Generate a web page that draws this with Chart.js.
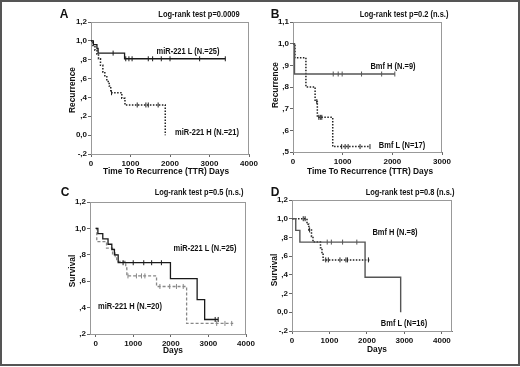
<!DOCTYPE html>
<html>
<head>
<meta charset="utf-8">
<script src="https://cdn.jsdelivr.net/npm/chart.js@4.4.0/dist/chart.umd.min.js"></script>
<style>
html, body { margin: 0; padding: 0; background: #fff; }
#wrap { position: relative; width: 520px; height: 367px; overflow: hidden; }
#wrap canvas { position: absolute; left: 0; top: 0; }
#frame { position: absolute; left: 0; top: 0; width: 520px; height: 366px; box-sizing: border-box; border: 2px solid #555; }
</style>
</head>
<body>
<div id="wrap">
  <canvas id="chartA" width="520" height="367"></canvas>
  <canvas id="chartB" width="520" height="367"></canvas>
  <canvas id="chartC" width="520" height="367"></canvas>
  <canvas id="chartD" width="520" height="367"></canvas>
  <div id="frame"></div>
</div>
<script>
//panel A: miR-221, time to recurrence
var aTicksX = [0, 1000, 2000, 3000, 4000];
var aTicksY = [-0.2, 0, 0.2, 0.4, 0.6, 0.8, 1.0, 1.2];
var aLowDays = [0, 60, 150, 180, 850, 3400];
var aLowVals = [1.0, 0.96, 0.92, 0.87, 0.81, 0.81];
var aLowCensDays = [560, 880, 960, 1040, 1450, 1560, 1780, 2000, 2750, 3400];
var aLowCensVals = [0.87, 0.81, 0.81, 0.81, 0.81, 0.81, 0.81, 0.81, 0.81, 0.81];
var aHighDays = [0, 50, 100, 150, 190, 240, 300, 350, 400, 460, 500, 780, 860, 1880];
var aHighVals = [1.0, 0.95, 0.90, 0.86, 0.81, 0.74, 0.67, 0.62, 0.57, 0.52, 0.45, 0.39, 0.32, 0.0];
var aHighCensDays = [520, 1170, 1390, 1450, 1700];
var aHighCensVals = [0.45, 0.32, 0.32, 0.32, 0.32];

//panel B: Bmf, time to recurrence
var bTicksX = [0, 1000, 2000, 3000];
var bTicksY = [0.5, 0.6, 0.7, 0.8, 0.9, 1.0, 1.1];
var bHighDays = [0, 30, 2050];
var bHighVals = [1.0, 0.86, 0.86];
var bHighCensDays = [810, 910, 990, 1380, 1785, 2050];
var bHighCensVals = [0.86, 0.86, 0.86, 0.86, 0.86, 0.86];
var bLowDays = [0, 40, 260, 445, 490, 800, 1550];
var bLowVals = [1.0, 0.935, 0.80, 0.733, 0.66, 0.525, 0.525];
var bLowCensDays = [480, 520, 550, 580, 980, 1050, 1110, 1350, 1550];
var bLowCensVals = [0.733, 0.66, 0.66, 0.66, 0.525, 0.525, 0.525, 0.525, 0.525];

//panel C: miR-221, survival
var cTicksX = [0, 1000, 2000, 3000, 4000];
var cTicksY = [0.2, 0.4, 0.6, 0.8, 1.0, 1.2];
var cLowDays = [0, 60, 190, 330, 430, 500, 600, 1990, 2700, 2900, 3260];
var cLowVals = [1.0, 0.96, 0.92, 0.88, 0.84, 0.80, 0.74, 0.62, 0.46, 0.31, 0.31];
var cLowCensDays = [730, 1000, 1280, 1490, 1750, 3180, 3260];
var cLowCensVals = [0.74, 0.74, 0.74, 0.74, 0.74, 0.31, 0.31];
var cHighDays = [0, 30, 290, 450, 560, 800, 830, 1620, 2420, 3660];
var cHighVals = [1.0, 0.90, 0.85, 0.80, 0.75, 0.70, 0.64, 0.56, 0.28, 0.28];
var cHighCensDays = [520, 860, 1085, 1220, 1310, 1710, 1970, 2150, 2330, 3220, 3440, 3620];
var cHighCensVals = [0.80, 0.64, 0.64, 0.64, 0.64, 0.56, 0.56, 0.56, 0.56, 0.28, 0.28, 0.28];

//panel D: Bmf, survival
var dTicksX = [0, 1000, 2000, 3000, 4000];
var dTicksY = [-0.2, 0, 0.2, 0.4, 0.6, 0.8, 1.0, 1.2];
var dHighDays = [0, 100, 210, 1950, 2900];
var dHighVals = [1.0, 0.875, 0.75, 0.375, 0.0];
var dHighCensDays = [940, 1050, 1350, 1730];
var dHighCensVals = [0.75, 0.75, 0.75, 0.75];
var dLowDays = [0, 400, 450, 520, 560, 760, 800, 830, 2080];
var dLowVals = [1.0, 0.94, 0.88, 0.81, 0.75, 0.69, 0.63, 0.56, 0.56];
var dLowCensDays = [300, 350, 470, 900, 970, 1280, 1440, 1480, 2040];
var dLowCensVals = [1.0, 1.0, 0.88, 0.56, 0.56, 0.56, 0.56, 0.56, 0.56];

var FONT = '"Liberation Sans", Arial, sans-serif';

function fmtY(v){
    var a = Math.abs(v);
    var s = a.toFixed(1).replace(".", ",");
    if(a > 1e-9 && a < 1){
        s = s.substring(1);
    }
    return (v < -1e-9 ? "-" : "") + s;
}

function toPoints(days, vals){
    var pts = [];
    for(var i = 0; i < days.length; i++){
        pts.push({x: days[i], y: vals[i]});
    }
    return pts;
}

function drawText(ctx, t){
    ctx.save();
    ctx.translate(t.x, t.y);
    if(t.rot){
        ctx.rotate(t.rot);
    }
    ctx.scale(t.sx || 0.88, 1);
    ctx.font = "bold " + t.size + "px " + FONT;
    ctx.fillStyle = "#111";
    ctx.textAlign = "center";
    ctx.textBaseline = "middle";
    ctx.fillText(t.s, 0, 0);
    ctx.restore();
}

function makePanel(id, area, xRange, yRange, xTicks, yTicks, curves, texts){
    var datasets = [];
    curves.forEach(function(c){
        datasets.push({
            data: toPoints(c.days, c.vals),
            stepped: true,
            borderColor: c.color,
            borderWidth: c.width,
            borderDash: c.dash,
            pointRadius: 0,
            fill: false
        });
        datasets.push({
            data: toPoints(c.censDays, c.censVals),
            showLine: false,
            pointStyle: "line",
            rotation: 90,
            pointRadius: 2.5,
            borderColor: c.color,
            borderWidth: 1
        });
    });
    var decor = {
        id: "decor" + id,
        beforeDatasetsDraw: function(chart){
            var ctx = chart.ctx, a = chart.chartArea;
            ctx.save();
            ctx.strokeStyle = "#999";
            ctx.lineWidth = 1;
            ctx.strokeRect(a.left + 0.5, a.top + 0.5, a.right - a.left - 1, a.bottom - a.top);
            ctx.restore();
        },
        afterDraw: function(chart){
            texts.forEach(function(t){ drawText(chart.ctx, t); });
        }
    };
    var tickFont = {family: FONT, size: 8, weight: "bold"};
    return new Chart(document.getElementById(id), {
        type: "line",
        data: {datasets: datasets},
        plugins: [decor],
        options: {
            responsive: false,
            animation: false,
            events: [],
            layout: {
                padding: {
                    left: area.left - 30,
                    top: area.top,
                    right: 520 - area.right,
                    bottom: 367 - area.bottom - 15
                }
            },
            plugins: {legend: {display: false}, tooltip: {enabled: false}},
            scales: {
                x: {
                    type: "linear",
                    min: xRange[0],
                    max: xRange[1],
                    afterBuildTicks: function(s){ s.ticks = xTicks.map(function(v){ return {value: v}; }); },
                    afterFit: function(s){ s.height = 15; },
                    grid: {display: true, drawOnChartArea: false, drawTicks: true, tickLength: 3, color: "#666"},
                    border: {display: true, color: "#777"},
                    ticks: {font: tickFont, color: "#111", padding: 1.5, maxRotation: 0, autoSkip: false,
                        callback: function(v){ return String(v); }}
                },
                y: {
                    type: "linear",
                    min: yRange[0],
                    max: yRange[1],
                    afterBuildTicks: function(s){ s.ticks = yTicks.map(function(v){ return {value: v}; }); },
                    afterFit: function(s){ s.width = 30; },
                    grid: {display: true, drawOnChartArea: false, drawTicks: true, tickLength: 3, color: "#666"},
                    border: {display: true, color: "#777"},
                    ticks: {font: tickFont, color: "#111", padding: 1, autoSkip: false,
                        callback: function(v){ return fmtY(v); }}
                }
            }
        }
    });
}

var ROT = -Math.PI / 2;

makePanel("chartA", {left: 91, right: 249, top: 22, bottom: 154}, [0, 4000], [-0.2, 1.2], aTicksX, aTicksY, [
    {days: aLowDays, vals: aLowVals, censDays: aLowCensDays, censVals: aLowCensVals, color: "#1a1a1a", width: 1.3, dash: []},
    {days: aHighDays, vals: aHighVals, censDays: aHighCensDays, censVals: aHighCensVals, color: "#222", width: 1.5, dash: [1.5, 1.5]}
], [
    {s: "A", x: 64, y: 15, size: 12, sx: 1},
    {s: "Log-rank test p=0.0009", x: 199, y: 15, size: 8.5},
    {s: "Time To Recurrence (TTR) Days", x: 166, y: 171, size: 9.5},
    {s: "Recurrence", x: 72, y: 90, size: 9.5, rot: ROT},
    {s: "miR-221 L (N.=25)", x: 188, y: 52, size: 8.5},
    {s: "miR-221 H (N.=21)", x: 207, y: 133, size: 8.5}
]);

makePanel("chartB", {left: 293, right: 442, top: 22, bottom: 152}, [0, 3000], [0.5, 1.1], bTicksX, bTicksY, [
    {days: bHighDays, vals: bHighVals, censDays: bHighCensDays, censVals: bHighCensVals, color: "#555", width: 1.4, dash: []},
    {days: bLowDays, vals: bLowVals, censDays: bLowCensDays, censVals: bLowCensVals, color: "#222", width: 1.5, dash: [1.5, 1.5]}
], [
    {s: "B", x: 275, y: 15, size: 12, sx: 1},
    {s: "Log-rank test p=0.2 (n.s.)", x: 404, y: 15, size: 8.5},
    {s: "Time To Recurrence (TTR) Days", x: 370, y: 171, size: 9.5},
    {s: "Recurrence", x: 275, y: 85, size: 9.5, rot: ROT},
    {s: "Bmf H (N.=9)", x: 393, y: 67, size: 8.5},
    {s: "Bmf L (N=17)", x: 402, y: 146, size: 8.5}
]);

makePanel("chartC", {left: 90, right: 246, top: 202, bottom: 334}, [-150, 4000], [0.2, 1.2], cTicksX, cTicksY, [
    {days: cLowDays, vals: cLowVals, censDays: cLowCensDays, censVals: cLowCensVals, color: "#1a1a1a", width: 1.3, dash: []},
    {days: cHighDays, vals: cHighVals, censDays: cHighCensDays, censVals: cHighCensVals, color: "#888", width: 1.3, dash: [3, 2]}
], [
    {s: "C", x: 65, y: 193, size: 12, sx: 1},
    {s: "Log-rank test p=0.5 (n.s.)", x: 199, y: 193, size: 8.5},
    {s: "Days", x: 173, y: 350, size: 9.5},
    {s: "Survival", x: 72, y: 271, size: 9.5, rot: ROT},
    {s: "miR-221 L (N.=25)", x: 205, y: 249, size: 8.5},
    {s: "miR-221 H (N.=20)", x: 130, y: 307, size: 8.5}
]);

makePanel("chartD", {left: 292, right: 452, top: 200, bottom: 331}, [0, 4270], [-0.2, 1.2], dTicksX, dTicksY, [
    {days: dHighDays, vals: dHighVals, censDays: dHighCensDays, censVals: dHighCensVals, color: "#555", width: 1.4, dash: []},
    {days: dLowDays, vals: dLowVals, censDays: dLowCensDays, censVals: dLowCensVals, color: "#222", width: 1.5, dash: [1.5, 1.5]}
], [
    {s: "D", x: 275, y: 193, size: 12, sx: 1},
    {s: "Log-rank test p=0.8 (n.s.)", x: 410, y: 193, size: 8.5},
    {s: "Days", x: 377, y: 349, size: 9.5},
    {s: "Survival", x: 274, y: 270, size: 9.5, rot: ROT},
    {s: "Bmf H (N.=8)", x: 395, y: 233, size: 8.5},
    {s: "Bmf L (N=16)", x: 404, y: 324, size: 8.5}
]);
</script>
</body>
</html>
